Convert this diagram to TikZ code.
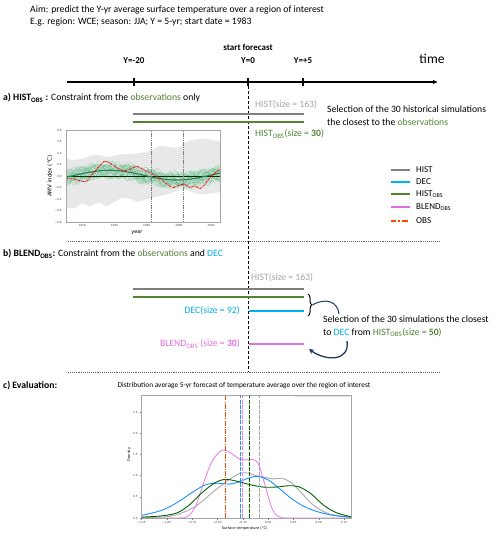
\documentclass[tikz,border=0pt]{standalone}
\usepackage{fontspec}
\setmainfont{Carlito}
\newfontfamily\plotfont{DejaVu Sans}
\usetikzlibrary{arrows.meta,decorations.pathreplacing}
\definecolor{histgray}{HTML}{808080}
\definecolor{histtxt}{HTML}{A6A6A6}
\definecolor{obsgreen}{HTML}{548235}
\definecolor{decblue}{HTML}{00B0F0}
\definecolor{blendpink}{HTML}{E070E0}
\definecolor{navyc}{HTML}{203864}
\definecolor{obsred}{HTML}{FF4500}
\definecolor{pblue}{HTML}{1E90FF}
\definecolor{pgreen}{HTML}{006400}
\definecolor{pgray}{HTML}{A9A9A9}
\definecolor{pviolet}{HTML}{EE82EE}
\definecolor{ensgreen}{HTML}{3CB371}
\definecolor{meangreen}{HTML}{2E7D4F}
\tikzset{
  txt/.style={inner sep=0pt,font=\fontsize{9.7}{13}\selectfont},
  lbl/.style={inner sep=0pt,font=\fontsize{9}{10}\selectfont\bfseries},
  bar/.style={line width=2pt},
  lgline/.style={line width=2pt},
  lgtxt/.style={inner sep=0pt,anchor=west,font=\fontsize{9}{10}\selectfont},
  tick/.style={inner sep=0pt,font=\plotfont\fontsize{2.8}{3}\selectfont,text=black!75},
  sep/.style={densely dotted,line width=0.9pt,black!60},
  vdash/.style={line width=0.9pt,dash pattern=on 4pt off 1.2pt},
  ens/.style={ensgreen,opacity=0.35,line width=0.3pt},
}
\begin{document}
\begin{tikzpicture}[x=1pt,y=-1pt]
\useasboundingbox (0,0) rectangle (500,537);
\fill[white] (0,0) rectangle (500,537);

% header
\node[txt,anchor=west] (aim) at (30,10) {Aim: predict the Y-yr average surface temperature over a region of interest};
\node[txt,anchor=west] (eg) at (30,22) {E.g. region: WCE; season: JJA; Y = 5-yr; start date = 1983};

% timeline
\coordinate (tl0) at (67,82);
\coordinate (tl1) at (438,82);
\draw[line width=1.1pt,-{Latex[length=5pt,width=4.5pt]}] (tl0) -- (tl1);
\foreach \xx in {134,248,303} \draw[line width=1.1pt] (\xx,78) -- (\xx,86);
\node[lbl] (ym20) at (134,61) {Y=-20};
\node[lbl] (y0) at (248,61) {Y=0};
\node[lbl] (y5) at (303,61) {Y=+5};
\node[lbl] (startf) at (248,47) {start forecast};
\node[inner sep=0pt,font=\fontsize{13.5}{14}\selectfont] (time) at (432,59) {time};
\coordinate (d0) at (248,86);
\coordinate (d1) at (248,372);
\draw[line width=0.9pt,dash pattern=on 3pt off 2pt] (d0) -- (d1);

% section a
\node[txt,anchor=west] (secA) at (3,98) {\textbf{a) HIST\textsubscript{OBS} :} Constraint from the \textcolor{obsgreen}{observations} only};
\node[txt,text=histtxt,anchor=west] (histA) at (255,105) {HIST(size = 163)};
\draw[bar,histgray] (133,114) -- (304,114);
\draw[bar,obsgreen] (133,122) -- (304,122);
\node[txt,anchor=west,align=left] (selA) at (327,115.5) {Selection of the 30 historical simulations\\the closest to the \textcolor{obsgreen}{observations}};
\node[txt,text=obsgreen,anchor=west] (hobsA) at (255,134) {HIST\textsubscript{OBS}(size = \textbf{30})};

% AMV plot
\begin{scope}[xshift=66pt,yshift=-176pt,x=1.6126pt,y=57.5pt]
  \fill[black!9] plot[smooth,tension=0.5] coordinates {(0,0.3) (5,0.28) (10,0.3) (15,0.35) (20,0.37) (25,0.33) (30,0.35) (35,0.38) (40,0.38) (45,0.4) (50,0.42) (53,0.45) (58,0.52) (65,0.5) (70,0.5) (75,0.6) (80,0.63) (85,0.65) (90,0.63) (95.5,0.6)}
   -- plot[smooth,tension=0.5] coordinates {(95.5,-0.28) (90,-0.3) (85,-0.32) (80,-0.3) (75,-0.24) (70,-0.24) (65,-0.3) (58,-0.35) (50,-0.4) (45,-0.45) (40,-0.4) (35,-0.38) (30,-0.45) (25,-0.52) (20,-0.46) (15,-0.52) (10,-0.48) (5,-0.56) (0,-0.56)} -- cycle;
  \begin{scope}
    \clip (0,-0.8) rectangle (95.5,0.8);
    \foreach \i in {1,...,30}{
      \pgfmathsetmacro{\pa}{mod(\i*47,360)}
      \pgfmathsetmacro{\pb}{mod(\i*113,360)}
      \pgfmathsetmacro{\fa}{14+mod(\i*7,17)}
      \pgfmathsetmacro{\fb}{32+mod(\i*11,25)}
      \pgfmathsetmacro{\aa}{0.06+0.004*mod(\i*13,20)}
      \draw[ens] plot[domain=0:95.5,samples=70,smooth,variable=\t] (\t,{0.015+0.085*sin((\t-6)*4.3)+\aa*sin(\fa*\t+\pa)+0.04*sin(\fb*\t+\pb)});
    }
    \draw[line width=0.5pt,black!55!green!40!black] (0,0) -- (95.5,0);
    \draw[meangreen,line width=1.1pt] plot[domain=0:95.5,samples=50,smooth,variable=\t] (\t,{0.015+0.085*sin((\t-6)*4.3)});
    \draw[red,line width=0.8pt,dash pattern=on 2pt off 0.8pt on 0.6pt off 0.8pt] plot[smooth,tension=0.5] coordinates {(0,-0.05) (5,-0.05) (9,-0.09) (13,-0.09) (16,0.02) (20,0.15) (24,0.26) (28,0.21) (32,0.14) (36,0.09) (40,0.12) (44,0.17) (48,0.11) (52,0.06) (56,0.0) (60,-0.08) (64,-0.17) (67,-0.2) (70,-0.16) (74,-0.15) (77,-0.2) (80,-0.17) (83,-0.22) (86,-0.15) (89,-0.04) (92,0.04) (95.5,0.12)};
  \end{scope}
  \draw[black!50,line width=0.5pt,dash pattern=on 1.2pt off 0.6pt] (53,-0.8) -- (53,0.8);
  \draw[black!50,line width=0.5pt,dash pattern=on 1.2pt off 0.6pt] (73,-0.8) -- (73,0.8);
  \draw[black!35,line width=0.5pt] (0,-0.8) rectangle (95.5,0.8);
  \foreach \v/\lab in {-0.8/−0.8,-0.6/−0.6,-0.4/−0.4,-0.2/−0.2,0/0.0,0.2/0.2,0.4/0.4,0.6/0.6,0.8/0.8}{
    \node[tick,anchor=east] at (-2.5,\v) {\lab};
  }
  \foreach \yr in {1920,1940,1960,1980,2000}{
    \node[tick,anchor=north] at ({\yr-1910},-0.83) {\yr};
  }
  \node[inner sep=0pt,font=\plotfont\fontsize{5.5}{6}\selectfont,rotate=90] (amvy) at (-10,0) {AMV index (°C)};
  \node[inner sep=0pt,font=\plotfont\fontsize{5}{6}\selectfont] (amvx) at (44,-0.98) {year};
\end{scope}

% legend
\draw[lgline,histgray] (391,170) -- (410,170);
\node[lgtxt] (lgHist) at (416,170) {HIST};
\draw[lgline,decblue] (391,182) -- (410,182);
\node[lgtxt] (lgDec) at (416,182) {DEC};
\draw[lgline,obsgreen] (391,194.5) -- (410,194.5);
\node[lgtxt] (lgHobs) at (416,194.5) {HIST\textsubscript{OBS}};
\draw[lgline,blendpink] (391,207) -- (410,207);
\node[lgtxt] (lgBlend) at (416,207) {BLEND\textsubscript{OBS}};
\draw[lgline,obsred,dash pattern=on 5pt off 2pt on 2pt off 2pt on 6pt] (391,220.5) -- (410,220.5);
\node[lgtxt] (lgObs) at (416,220.5) {OBS};

\draw[sep] (68,241) -- (440,241);

% section b
\node[txt,anchor=west] (secB) at (3,254) {\textbf{b) BLEND\textsubscript{OBS}:} Constraint from the \textcolor{obsgreen}{observations} and \textcolor{decblue}{DEC}};
\node[txt,text=histtxt,anchor=west] (histB) at (251,278) {HIST(size = 163)};
\draw[bar,histgray] (133,289) -- (304,289);
\draw[bar,obsgreen] (133,297) -- (304,297);
\draw[bar,decblue] (249,311) -- (304,311);
\node[txt,text=decblue,anchor=east] (decB) at (240,311) {DEC(size = 92)};
\draw[bar,blendpink] (249,344) -- (304,344);
\node[txt,text=blendpink,anchor=east] (blendB) at (240,344) {BLEND\textsubscript{OBS} (size = \textbf{30})};
\draw[decorate,decoration={brace,amplitude=4pt,raise=0pt},line width=1pt] (308,294) -- (308,316);
\coordinate (btip) at (312.5,305);
\coordinate (bend) at (339,314);
\draw[navyc,line width=1pt] (btip) .. controls (326,297) and (338,302) .. (bend);
\node[txt,anchor=west,align=left] (selB) at (323,326) {Selection of the 30 simulations the closest\\to \textcolor{decblue}{DEC} from \textcolor{obsgreen}{HIST\textsubscript{OBS}(size = \textbf{50})}};
\coordinate (astart) at (347,341);
\coordinate (aend) at (309,349);
\draw[navyc,line width=1.3pt,-{Stealth[length=5pt,width=5pt]}] (astart) .. controls (350,362) and (325,361) .. (aend);

\draw[sep] (68,372) -- (440,372);

% section c
\node[txt,anchor=west] (secC) at (3,386) {\textbf{c) Evaluation:}};
\node[inner sep=0pt,font=\fontsize{7.4}{8}\selectfont] (ttl) at (244,386) {Distribution average 5-yr forecast of temperature average over the region of interest};

\begin{scope}[xshift=268pt,yshift=-518pt,x=101.3pt,y=42.4pt]
  \begin{scope}
    \clip (-1.25,-0.012) rectangle (0.82,2.9);
    \draw[pviolet,line width=0.9pt] plot[smooth,tension=0.5] coordinates {(-1.25,0) (-0.9,0) (-0.8,0.03) (-0.72,0.25) (-0.64,0.8) (-0.56,1.3) (-0.48,1.56) (-0.43,1.6) (-0.36,1.52) (-0.28,1.39) (-0.22,1.37) (-0.15,1.38) (-0.1,1.3) (-0.05,0.95) (0.0,0.52) (0.04,0.22) (0.08,0.07) (0.13,0.015) (0.2,0) (0.82,0)};
    \draw[pgray,line width=0.9pt] plot[smooth,tension=0.55] coordinates {(-1.25,0.01) (-1.0,0.03) (-0.85,0.12) (-0.7,0.3) (-0.55,0.6) (-0.4,0.88) (-0.28,1.05) (-0.2,1.06) (-0.12,1.0) (-0.03,0.96) (0.05,0.92) (0.13,0.94) (0.22,0.85) (0.32,0.62) (0.45,0.3) (0.6,0.1) (0.82,0.01)};
    \draw[pblue,line width=0.9pt] plot[smooth,tension=0.55] coordinates {(-1.25,0.06) (-1.05,0.18) (-0.9,0.36) (-0.75,0.6) (-0.62,0.78) (-0.5,0.82) (-0.38,0.8) (-0.28,0.86) (-0.18,0.95) (-0.1,0.98) (0.0,0.9) (0.1,0.72) (0.22,0.48) (0.35,0.28) (0.5,0.14) (0.65,0.06) (0.82,0.02)};
    \draw[pgreen,line width=0.9pt] plot[smooth,tension=0.55] coordinates {(-1.25,0.02) (-1.05,0.05) (-0.9,0.12) (-0.78,0.3) (-0.65,0.6) (-0.53,0.82) (-0.43,0.91) (-0.33,0.88) (-0.2,0.8) (-0.05,0.73) (0.08,0.73) (0.2,0.76) (0.3,0.74) (0.42,0.58) (0.55,0.3) (0.68,0.12) (0.82,0.03)};
  \end{scope}
  \draw[obsred,line width=1pt,dash pattern=on 5pt off 1.2pt on 1pt off 1.2pt] (-0.42,0) -- (-0.42,2.9);
  \draw[pblue,vdash] (-0.275,0) -- (-0.275,2.9);
  \draw[pviolet,vdash] (-0.252,0) -- (-0.252,2.9);
  \draw[pgreen,vdash] (-0.18,0) -- (-0.18,2.9);
  \draw[pgray,line width=0.7pt,dash pattern=on 4pt off 1.2pt] (-0.09,0) -- (-0.09,2.9);
  \draw[black!35,line width=0.5pt] (-1.25,0) rectangle (0.82,2.9);
  \draw[black!12,line width=0.5pt] (0.27,2.88) -- (0.81,2.88);
  \foreach \v/\lab in {0/0.0,0.5/0.5,1/1.0,1.5/1.5,2/2.0,2.5/2.5}{
    \draw[black!50,line width=0.3pt] (-1.25,\v) -- (-1.265,\v);
    \node[tick,anchor=east] at (-1.285,\v) {\lab};
  }
  \foreach \v/\lab in {-1.25/−1.25,-1/−1.00,-0.75/−0.75,-0.5/−0.50,-0.25/−0.25,0/0.00,0.25/0.25,0.5/0.50,0.75/0.75}{
    \draw[black!50,line width=0.3pt] (\v,0) -- (\v,-0.04);
    \node[tick,anchor=north] at (\v,-0.07) {\lab};
  }
  \node[inner sep=0pt,font=\plotfont\fontsize{3.6}{4}\selectfont,rotate=90] (dens) at (-1.37,1.5) {Density};
  \node[inner sep=0pt,font=\plotfont\fontsize{3.6}{4}\selectfont] (surf) at (-0.23,-0.24) {Surface temperature (°C)};
\end{scope}
\end{tikzpicture}
\end{document}
